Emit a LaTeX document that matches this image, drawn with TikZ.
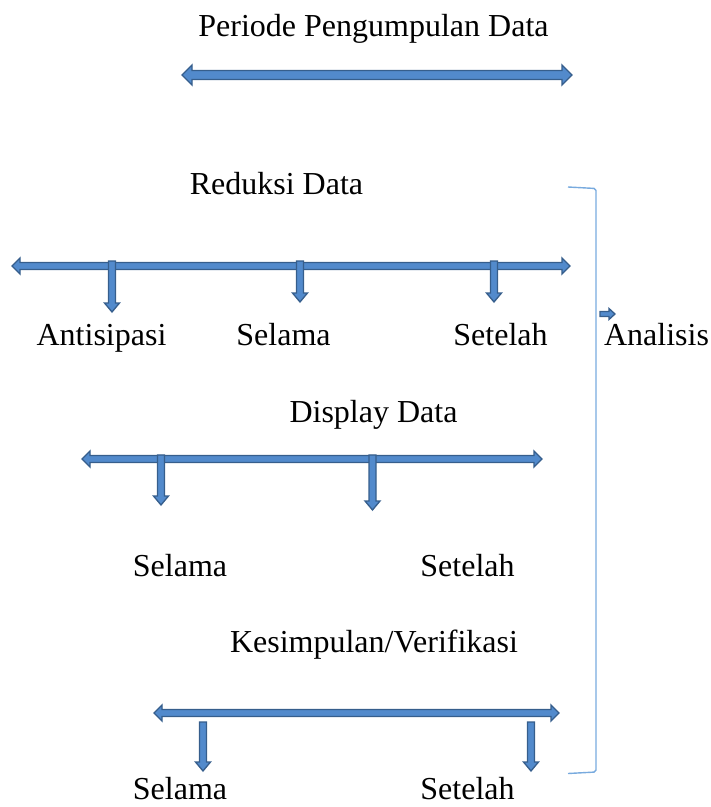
\documentclass[tikz,border=0pt]{standalone}
\usepackage{fontspec}
\setmainfont{Liberation Serif}
\definecolor{arrfill}{RGB}{82,138,204}
\definecolor{arredge}{RGB}{54,94,140}
\definecolor{brk}{RGB}{120,170,222}
\tikzset{
  blockarrow/.style={fill=arrfill, draw=arredge, line width=1.3pt, line join=miter},
  lbl/.style={inner sep=0pt, anchor=base, font=\fontsize{32}{36}\selectfont},
  bracketline/.style={draw=brk, line width=1.4pt, rounded corners=2pt}
}
% horizontal double-headed block arrow: x1, x2, y, shaft half, head half, head length
\newcommand{\hdblock}[6]{%
  \filldraw[blockarrow] (#1,#3) -- (#1+#6,#3-#5) -- (#1+#6,#3-#4) -- (#2-#6,#3-#4) -- (#2-#6,#3-#5) -- (#2,#3)
   -- (#2-#6,#3+#5) -- (#2-#6,#3+#4) -- (#1+#6,#3+#4) -- (#1+#6,#3+#5) -- cycle;}
% vertical down block arrow: x, y1, y2, shaft half, head half, head length
\newcommand{\dnblock}[6]{%
  \filldraw[blockarrow] (#1-#4,#2) -- (#1+#4,#2) -- (#1+#4,#3-#6) -- (#1+#5,#3-#6) -- (#1,#3)
   -- (#1-#5,#3-#6) -- (#1-#4,#3-#6) -- cycle;}
% horizontal right block arrow: x1, x2, y, shaft half, head half, head length
\newcommand{\rtblock}[6]{%
  \filldraw[blockarrow] (#1,#3-#4) -- (#2-#6,#3-#4) -- (#2-#6,#3-#5) -- (#2,#3) -- (#2-#6,#3+#5)
   -- (#2-#6,#3+#4) -- (#1,#3+#4) -- cycle;}
\begin{document}
\begin{tikzpicture}[x=1pt,y=-1pt]
\useasboundingbox (0,0) rectangle (711,807);
% titles and labels
\node[lbl] (title) at (373.5,36) {Periode Pengumpulan Data};
\node[lbl] (reduksi) at (276.5,194) {Reduksi Data};
\node[lbl] (antisipasi) at (101.5,345) {Antisipasi};
\node[lbl] (selama1) at (283.5,345) {Selama};
\node[lbl] (setelah1) at (500.5,345) {Setelah};
\node[lbl] (analisis) at (656.5,345) {Analisis};
\node[lbl] (display) at (373.5,422) {Display Data};
\node[lbl] (selama2) at (180,576) {Selama};
\node[lbl] (setelah2) at (467.5,576) {Setelah};
\node[lbl] (kesimpulan) at (374,652) {Kesimpulan/Verifikasi};
\node[lbl] (selama3) at (180,799) {Selama};
\node[lbl] (setelah3) at (467.5,799) {Setelah};
% top arrow
\hdblock{182}{572}{75}{4.5}{10}{10}
% row 1
\hdblock{12}{570}{266}{3.5}{8}{8}
\dnblock{112}{261}{312}{3.5}{7.5}{9}
\dnblock{300}{261}{302}{3.5}{7.5}{9}
\dnblock{494}{261}{302}{3.5}{7.5}{9}
% row 2
\hdblock{82}{542}{459}{3.5}{8}{8}
\dnblock{161}{455}{505}{3.5}{7.5}{9}
\dnblock{372.5}{455}{510}{3.5}{7.5}{9}
% row 3
\hdblock{154}{559}{713}{3.5}{8}{8}
\dnblock{203}{722}{771}{3.5}{7.5}{9}
\dnblock{531}{722}{771}{3.5}{7.5}{9}
% bracket
\draw[bracketline] (568,187) -- (596,188.5) -- (596,772) -- (568,773.5);
% analisis arrow
\rtblock{600}{615}{314}{2.5}{5.5}{6}
\end{tikzpicture}
\end{document}
